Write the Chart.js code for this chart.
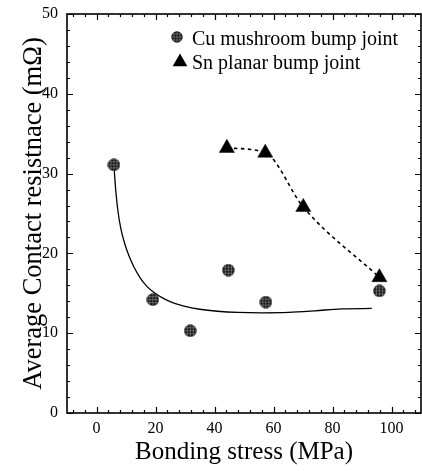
<!DOCTYPE html>
<html><head><meta charset="utf-8">
<script src="https://cdn.jsdelivr.net/npm/chart.js@4.4.0/dist/chart.umd.min.js"></script>
<style>html,body{margin:0;padding:0;background:#fff;} canvas{display:block;}</style>
</head><body>
<canvas id="c" width="422" height="471"></canvas>
<script>
// ---- data ----
const seriesNames = ['Cu mushroom bump joint', 'Sn planar bump joint'];
const cuX = [5.9, 19.1, 31.8, 44.7, 57.4, 95.9];
const cuY = [31.1, 14.2, 10.3, 17.9, 13.9, 15.3];
const snX = [44.2, 57.2, 70.1, 95.9];
const snY = [33.2, 32.6, 25.8, 17.0];
const fitX = [5.9, 6.5, 7.2, 8.2, 9.5, 11, 12.7, 14.7, 17, 19.5, 22.5, 26, 30, 35, 41, 48, 56, 65, 74, 83, 93.3];
const fitY = [31.1, 28, 25.5, 23.2, 21.3, 19.7, 18.3, 17.0, 15.9, 15.1, 14.4, 13.8, 13.35, 13.0, 12.75, 12.6, 12.55, 12.6, 12.8, 13.05, 13.1];
const xTickLabels = [0, 20, 40, 60, 80, 100];
const yTickLabels = [0, 10, 20, 30, 40, 50];
const xTitle = 'Bonding stress (MPa)';
const yTitle = 'Average Contact resistnace (mΩ)';

const SERIF = "'Liberation Serif', 'Times New Roman', serif";

function makeCircle(d) {
  const c = document.createElement('canvas'); c.width = d; c.height = d;
  const g = c.getContext('2d'); const r = d / 2;
  g.beginPath(); g.arc(r, r, r - 0.3, 0, 2 * Math.PI); g.fillStyle = '#151515'; g.fill();
  g.save(); g.clip();
  g.strokeStyle = 'rgba(140,140,140,0.85)'; g.lineWidth = 0.7;
  for (const o of [-3, 0, 3]) {
    g.beginPath(); g.moveTo(0, r + o); g.lineTo(d, r + o); g.stroke();
    g.beginPath(); g.moveTo(r + o, 0); g.lineTo(r + o, d); g.stroke();
  }
  g.restore();
  return c;
}
const circleImg = makeCircle(13);
const circleLegendImg = makeCircle(12);

function zeroPad(s) { s.paddingTop = 0; s.paddingBottom = 0; s.paddingLeft = 0; s.paddingRight = 0; }

const frameTicks = {
  id: 'frameTicks',
  afterDatasetsDraw(chart) {
    const {ctx, chartArea: a, scales: {x, y}} = chart;
    ctx.save();
    ctx.strokeStyle = '#000'; ctx.lineWidth = 1.2;
    ctx.beginPath();
    for (let v = Math.ceil(x.min / 4) * 4; v <= x.max + 1e-9; v += 4) {
      const px = Math.round(x.getPixelForValue(v)) + 0.5;
      const L = (v % 20 === 0) ? 6 : 3;
      ctx.moveTo(px, a.bottom); ctx.lineTo(px, a.bottom - L);
      ctx.moveTo(px, a.top); ctx.lineTo(px, a.top + L);
    }
    for (let v = Math.ceil(y.min / 2) * 2; v <= y.max + 1e-9; v += 2) {
      const py = Math.round(y.getPixelForValue(v)) + 0.5;
      const L = (v % 10 === 0) ? 6 : 3;
      ctx.moveTo(a.left, py); ctx.lineTo(a.left + L, py);
      ctx.moveTo(a.right, py); ctx.lineTo(a.right - L, py);
    }
    ctx.stroke();
    ctx.lineWidth = 1.6;
    ctx.strokeRect(a.left, a.top, a.right - a.left, a.bottom - a.top);
    ctx.restore();
  },
  afterDraw(chart) {
    const ctx = chart.ctx;
    ctx.save();
    ctx.fillStyle = '#000';
    ctx.font = '20px ' + SERIF;
    ctx.textBaseline = 'alphabetic';
    ctx.textAlign = 'left';
    ctx.drawImage(circleLegendImg, 177 - 6, 37 - 6, 12, 12);
    ctx.fillText(seriesNames[0], 192, 45);
    const tx = 180, ty = 62, r = 8.5;
    ctx.beginPath();
    ctx.moveTo(tx, ty - r);
    ctx.lineTo(tx + r * Math.sin(2 * Math.PI / 3), ty + r / 2);
    ctx.lineTo(tx - r * Math.sin(2 * Math.PI / 3), ty + r / 2);
    ctx.closePath(); ctx.fill();
    ctx.fillText(seriesNames[1], 192, 69);
    ctx.restore();
  }
};

new Chart(document.getElementById('c'), {
  type: 'scatter',
  data: {
    datasets: [
      {
        label: seriesNames[0],
        data: cuX.map((v, i) => ({x: v, y: cuY[i]})),
        pointStyle: circleImg,
        showLine: false
      },
      {
        label: seriesNames[1],
        data: snX.map((v, i) => ({x: v, y: snY[i]})),
        showLine: true,
        borderColor: '#000',
        borderWidth: 1.6,
        borderDash: [3.5, 3.5],
        cubicInterpolationMode: 'monotone',
        pointStyle: 'triangle',
        pointRadius: 8.7,
        pointBackgroundColor: '#000',
        pointBorderColor: '#000',
        pointBorderWidth: 0.5
      },
      {
        label: 'fit',
        data: fitX.map((v, i) => ({x: v, y: fitY[i]})),
        showLine: true,
        borderColor: '#000',
        borderWidth: 1.3,
        cubicInterpolationMode: 'monotone',
        pointRadius: 0
      }
    ]
  },
  options: {
    responsive: false,
    animation: false,
    devicePixelRatio: 1,
    layout: {autoPadding: false, padding: {top: 14, right: 1, left: 0, bottom: 0}},
    plugins: {legend: {display: false}, tooltip: {enabled: false}},
    scales: {
      x: {
        type: 'linear', min: -10, max: 110,
        afterBuildTicks: s => { s.ticks = xTickLabels.map(v => ({value: v})); },
        afterFit: s => { s.height = 58; zeroPad(s); },
        grid: {display: false, drawTicks: false},
        border: {display: false},
        ticks: {font: {family: SERIF, size: 16}, color: '#000', padding: 6, maxRotation: 0, autoSkip: false},
        title: {display: true, text: xTitle, color: '#000', font: {family: SERIF, size: 25}, padding: {top: 0, bottom: 4}}
      },
      y: {
        type: 'linear', min: 0, max: 50,
        afterBuildTicks: s => { s.ticks = yTickLabels.map(v => ({value: v})); },
        afterFit: s => { s.width = 67; zeroPad(s); },
        grid: {display: false, drawTicks: false},
        border: {display: false},
        ticks: {font: {family: SERIF, size: 16}, color: '#000', padding: 9, autoSkip: false},
        title: {display: true, text: yTitle, color: '#000', font: {family: SERIF, size: 26.5}, padding: {top: 18.5, bottom: 0}}
      }
    }
  },
  plugins: [frameTicks]
});
</script>
</body></html>
